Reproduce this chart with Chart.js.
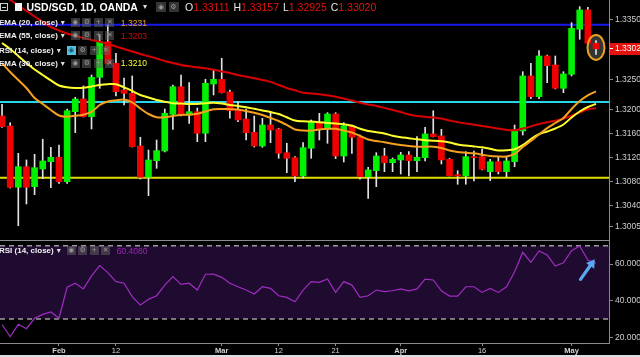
<!DOCTYPE html>
<html><head><meta charset="utf-8">
<script src="https://cdn.jsdelivr.net/npm/chart.js@4.4.1/dist/chart.umd.min.js"></script>
<style>
html,body{margin:0;padding:0;background:#000;overflow:hidden;}
#wrap{position:relative;width:640px;height:357px;overflow:hidden;}
canvas{position:absolute;left:0;top:0;}
.t{position:absolute;font-family:"Liberation Sans",Arial,sans-serif;white-space:nowrap;line-height:14px;}
.row{position:absolute;left:-1px;display:flex;align-items:center;height:12px;font:bold 8px "Liberation Sans",Arial,sans-serif;color:#f2f2f2;white-space:nowrap;}
.caret{font:8px "DejaVu Sans",sans-serif;color:#ddd;margin-left:3px;}
.bxs{display:flex;margin-left:6px;}
.bx{display:inline-block;width:9px;height:9px;background:rgba(95,95,95,0.55);margin-right:2.5px;font:7px "DejaVu Sans",sans-serif;color:#9a9a9a;text-align:center;line-height:9px;}
.bx.on{background:#52c1e3;color:#1d5d70;}
.val{margin-left:4px;font:8.5px "Liberation Sans",Arial,sans-serif;}
</style></head><body>
<div id="wrap">
<canvas id="c" width="640" height="357"></canvas>
<div style="position:absolute;left:0;top:3px;width:6px;height:6px;border:1px solid #cfcfcf;"><div style="position:absolute;left:1px;top:2.5px;width:4px;height:1px;background:#cfcfcf"></div></div>
<div style="position:absolute;left:15px;top:3px;width:7px;height:8px;background:#f4f4f4;"></div>
<div class="t" style="left:26.5px;top:0;font-weight:bold;font-size:10.5px;color:#fff;">USD/SGD, 1D, OANDA</div>
<div class="t" style="left:143px;top:0;font:8px 'DejaVu Sans',sans-serif;line-height:14px;color:#ddd;">▾</div>
<div style="position:absolute;left:156px;top:2px;display:flex;"><span class="bx" style="width:10px;height:10px;line-height:10px">◉</span><span class="bx" style="width:10px;height:10px;line-height:10px">⚙</span></div>
<div class="t" style="left:185px;top:0;font-size:10.5px;color:#e6e6e6;word-spacing:1px;">O<span style="color:#e3140f">1.33111</span> H<span style="color:#e3140f">1.33157</span> L<span style="color:#e3140f">1.32925</span> C<span style="color:#e3140f">1.33020</span></div>

<div class="row" style="top:16.7px;"><span>EMA (20, close)</span><span class="caret">▾</span><span class="bxs"><span class="bx">◉</span><span class="bx">⚙</span><span class="bx">+</span><span class="bx">✕</span></span><span class="val" style="color:#f2a11f">1.3231</span></div>
<div class="row" style="top:29.7px;"><span>EMA (55, close)</span><span class="caret">▾</span><span class="bxs"><span class="bx">◉</span><span class="bx">⚙</span><span class="bx">+</span><span class="bx">✕</span></span><span class="val" style="color:#c41212">1.3203</span></div>
<div class="row" style="top:44px;"><span>RSI (14, close)</span><span class="caret">▾</span><span class="bxs"><span class="bx on">◉</span><span class="bx">⚙</span><span class="bx">+</span><span class="bx">✕</span></span></div>
<div class="row" style="top:57.3px;"><span>EMA (30, close)</span><span class="caret">▾</span><span class="bxs"><span class="bx">◉</span><span class="bx">⚙</span><span class="bx">+</span><span class="bx">✕</span></span><span class="val" style="color:#ffff33">1.3210</span></div>
<div class="row" style="top:244.7px;"><span>RSI (14, close)</span><span class="caret">▾</span><span class="bxs"><span class="bx">◉</span><span class="bx">⚙</span><span class="bx">+</span><span class="bx">✕</span></span><span class="val" style="color:#9c27b0">60.4080</span></div>
</div>
<script>
// ---- data ----
const dates = ["2018-01-23","2018-01-24","2018-01-25","2018-01-26","2018-01-29","2018-01-30","2018-01-31","2018-02-01","2018-02-02","2018-02-05","2018-02-06","2018-02-07","2018-02-08","2018-02-09","2018-02-12","2018-02-13","2018-02-14","2018-02-15","2018-02-16","2018-02-19","2018-02-20","2018-02-21","2018-02-22","2018-02-23","2018-02-26","2018-02-27","2018-02-28","2018-03-01","2018-03-02","2018-03-05","2018-03-06","2018-03-07","2018-03-08","2018-03-09","2018-03-12","2018-03-13","2018-03-14","2018-03-15","2018-03-16","2018-03-19","2018-03-20","2018-03-21","2018-03-22","2018-03-23","2018-03-26","2018-03-27","2018-03-28","2018-03-29","2018-03-30","2018-04-02","2018-04-03","2018-04-04","2018-04-05","2018-04-06","2018-04-09","2018-04-10","2018-04-11","2018-04-12","2018-04-13","2018-04-16","2018-04-17","2018-04-18","2018-04-19","2018-04-20","2018-04-23","2018-04-24","2018-04-25","2018-04-26","2018-04-27","2018-04-30","2018-05-01","2018-05-02","2018-05-03","2018-05-04"];
const opens = [1.31900,1.31733,1.30712,1.31055,1.30722,1.31017,1.31138,1.31212,1.30805,1.31972,1.32183,1.31888,1.32545,1.33138,1.32778,1.32333,1.32278,1.31400,1.30878,1.31155,1.31317,1.31928,1.32388,1.31917,1.31972,1.31612,1.32433,1.32512,1.32300,1.32000,1.31850,1.31628,1.31400,1.31750,1.31683,1.31288,1.31205,1.30900,1.31362,1.31795,1.31678,1.31933,1.31233,1.31733,1.31555,1.30888,1.30988,1.31233,1.31122,1.31167,1.31250,1.31155,1.31205,1.31600,1.31567,1.31178,1.30922,1.30900,1.31222,1.31222,1.30972,1.31138,1.30972,1.31138,1.31650,1.32567,1.32222,1.32900,1.32750,1.32362,1.32595,1.33345,1.33667,1.33111];
const highs = [1.32095,1.31788,1.31278,1.31167,1.31262,1.31512,1.31378,1.31417,1.32017,1.32212,1.32400,1.32583,1.33250,1.33417,1.32945,1.32533,1.32567,1.31545,1.31333,1.31500,1.32017,1.32417,1.32583,1.32455,1.32033,1.32512,1.32667,1.32862,1.32333,1.32138,1.32017,1.31900,1.31862,1.31972,1.31695,1.31445,1.31222,1.31455,1.31833,1.31945,1.31955,1.31955,1.31788,1.31750,1.31583,1.31045,1.31288,1.31362,1.31200,1.31295,1.31305,1.31555,1.31712,1.31988,1.31678,1.31192,1.30988,1.31305,1.31317,1.31350,1.31178,1.31222,1.31212,1.31750,1.32638,1.32778,1.32988,1.32917,1.32900,1.32638,1.33455,1.33722,1.33712,1.33157];
const lows = [1.31708,1.30700,1.30072,1.30433,1.30588,1.30855,1.30705,1.30778,1.30778,1.31622,1.31883,1.31683,1.32362,1.32767,1.32233,1.32083,1.31383,1.30850,1.30572,1.31028,1.31300,1.31678,1.31900,1.31778,1.31472,1.31472,1.32250,1.32283,1.31862,1.31805,1.31500,1.31383,1.31378,1.31455,1.31195,1.30955,1.30805,1.30862,1.31195,1.31500,1.31445,1.31188,1.31133,1.31278,1.30845,1.30528,1.30722,1.30972,1.30972,1.30933,1.30900,1.30972,1.31150,1.31550,1.31100,1.30900,1.30762,1.30762,1.30817,1.31000,1.30822,1.30933,1.30888,1.31055,1.31583,1.32188,1.32188,1.32455,1.32350,1.32288,1.32567,1.33178,1.33090,1.32925];
const closes = [1.31722,1.30712,1.31055,1.30712,1.31038,1.31150,1.31212,1.30805,1.31988,1.32183,1.31888,1.32545,1.33138,1.32778,1.32305,1.32278,1.31388,1.30878,1.31167,1.31322,1.31945,1.32388,1.31917,1.31972,1.31612,1.32445,1.32512,1.32288,1.31988,1.31833,1.31622,1.31400,1.31750,1.31667,1.31278,1.31195,1.30900,1.31372,1.31795,1.31683,1.31933,1.31233,1.31738,1.31545,1.30888,1.31000,1.31233,1.31122,1.31178,1.31250,1.31155,1.31212,1.31600,1.31555,1.31167,1.30905,1.30900,1.31222,1.31205,1.31012,1.31138,1.30972,1.31150,1.31650,1.32567,1.32222,1.32900,1.32738,1.32362,1.32600,1.33362,1.33667,1.33112,1.33020];
const ema20 = [1.32783,1.32633,1.32500,1.32367,1.32200,1.32100,1.32000,1.31908,1.31888,1.31903,1.31922,1.31967,1.32083,1.32142,1.32160,1.32173,1.32125,1.32025,1.31933,1.31878,1.31878,1.31900,1.31917,1.31920,1.31937,1.31975,1.32012,1.32017,1.32013,1.32008,1.31983,1.31953,1.31917,1.31867,1.31817,1.31750,1.31675,1.31658,1.31657,1.31675,1.31687,1.31687,1.31658,1.31625,1.31567,1.31507,1.31483,1.31462,1.31438,1.31417,1.31400,1.31388,1.31388,1.31388,1.31367,1.31325,1.31300,1.31288,1.31277,1.31255,1.31233,1.31225,1.31225,1.31267,1.31383,1.31483,1.31592,1.31697,1.31783,1.31867,1.32017,1.32150,1.32245,1.32310];
const ema30 = [1.33117,1.33017,1.32900,1.32783,1.32675,1.32583,1.32492,1.32408,1.32378,1.32367,1.32370,1.32392,1.32417,1.32430,1.32430,1.32378,1.32317,1.32250,1.32208,1.32167,1.32138,1.32112,1.32107,1.32100,1.32100,1.32112,1.32122,1.32108,1.32083,1.32067,1.32047,1.32020,1.31992,1.31965,1.31933,1.31878,1.31825,1.31812,1.31807,1.31797,1.31785,1.31773,1.31762,1.31737,1.31687,1.31650,1.31630,1.31608,1.31572,1.31547,1.31530,1.31512,1.31497,1.31488,1.31477,1.31458,1.31425,1.31407,1.31393,1.31378,1.31353,1.31325,1.31327,1.31345,1.31413,1.31517,1.31595,1.31642,1.31692,1.31758,1.31875,1.31975,1.32050,1.32100];
const ema55 = [1.33917,1.33833,1.33742,1.33650,1.33558,1.33467,1.33383,1.33325,1.33275,1.33233,1.33200,1.33167,1.33138,1.33100,1.33058,1.33017,1.32975,1.32933,1.32895,1.32858,1.32817,1.32783,1.32750,1.32728,1.32712,1.32695,1.32670,1.32643,1.32617,1.32583,1.32557,1.32528,1.32500,1.32468,1.32417,1.32367,1.32328,1.32288,1.32275,1.32262,1.32247,1.32220,1.32192,1.32157,1.32122,1.32093,1.32067,1.32035,1.32000,1.31967,1.31925,1.31900,1.31887,1.31873,1.31857,1.31825,1.31795,1.31775,1.31755,1.31733,1.31713,1.31690,1.31667,1.31663,1.31692,1.31727,1.31767,1.31797,1.31822,1.31853,1.31907,1.31958,1.32013,1.32030];
const rsi = [27.0,20.3,27.1,24.7,30.4,32.5,33.8,30.4,47.3,49.5,46.4,53.5,59.1,55.3,50.4,49.5,42.2,37.6,40.7,42.7,48.5,53.1,48.9,49.5,45.8,54.4,54.5,52.7,49.5,47.6,45.8,43.6,47.6,46.7,42.7,41.8,39.4,45.8,50.4,50.0,51.8,44.5,50.4,48.5,41.8,42.7,45.8,44.9,45.4,46.4,45.4,46.4,51.8,51.3,45.4,42.5,42.5,47.6,47.6,44.5,46.7,44.5,47.6,55.8,66.4,60.9,67.1,64.9,58.9,60.7,67.3,69.8,62.2,60.41];
const priceTicks = [1.3005,1.304,1.308,1.312,1.316,1.32,1.325,1.335];
const rsiTicks = [20,40,60];
const rsiBand = [30,70];
const levels = [1.33422,1.32133,1.30872];
const xTickDates = ["2018-02-01","2018-02-12","2018-03-01","2018-03-12","2018-03-21","2018-04-02","2018-04-16","2018-05-01"];
const xTickLabels = ["Feb","12","Mar","12","21","Apr","16","May"];
const circleMark = {date:"2018-05-04", price:1.33042};
const arrowMark = {from:{x:71.1, rsi:51.6}, to:{x:72.85, rsi:62.6}};

// ---- styles ----
const FONT = '"Liberation Sans", Arial, sans-serif';
const GREEN = '#00f000', RED = '#ee0000', WICK = '#e2e2e2';
const levelColors = ['#1818f0','#28d4e8','#e0e000'];
const idx = dates.map((d,i)=>i);
const lastClose = closes[closes.length-1];
const xTickIdx = xTickDates.map(d=>dates.indexOf(d));

Chart.defaults.font.family = FONT;

const overlay = {
  id:'overlay',
  beforeDraw(ch){
    const c=ch.ctx, ys=ch.scales.y, xs=ch.scales.x;
    c.save();
    c.fillStyle='#000'; c.fillRect(0,0,ch.width,ch.height);
    const py=ys.getPixelForValue(lastClose);
    c.fillStyle='#e3140f'; c.fillRect(xs.right+1, Math.round(py)-6, ch.width-xs.right, 12);
    c.restore();
  },
  beforeDatasetsDraw(ch){
    const c=ch.ctx, ys=ch.scales.y, yr=ch.scales.yR, xs=ch.scales.x;
    const L=xs.left, R=xs.right;
    c.save();
    const y70=yr.getPixelForValue(rsiBand[1]), y30=yr.getPixelForValue(rsiBand[0]);
    c.fillStyle='#1f0b2f'; c.fillRect(L,y70,R-L,y30-y70);
    c.setLineDash([5,4]); c.strokeStyle='#9a9a9a'; c.lineWidth=1.5;
    [y70,y30].forEach(y=>{c.beginPath();c.moveTo(L,y);c.lineTo(R,y);c.stroke();});
    c.setLineDash([]);
    c.beginPath(); c.rect(L, ys.top, R-L, ys.bottom-ys.top); c.clip();
    levels.forEach((v,k)=>{ const y=ys.getPixelForValue(v); c.strokeStyle=levelColors[k]; c.lineWidth=2; c.beginPath(); c.moveTo(L,y); c.lineTo(R,y); c.stroke(); });
    const cx=xs.getPixelForValue(dates.indexOf(circleMark.date)), cy=ys.getPixelForValue(circleMark.price);
    c.fillStyle='rgba(70,70,70,0.75)'; c.beginPath(); c.ellipse(cx,cy,8.5,12.5,0,0,Math.PI*2); c.fill();
    c.restore();
  },
  afterDatasetsDraw(ch){
    const c=ch.ctx, ys=ch.scales.y, yr=ch.scales.yR, xs=ch.scales.x;
    c.save();
    c.strokeStyle='#8a8a8a'; c.lineWidth=1;
    c.beginPath(); c.moveTo(0, Math.round(ys.bottom)+0.5); c.lineTo(xs.right, Math.round(ys.bottom)+0.5); c.stroke();
    const cx=xs.getPixelForValue(dates.indexOf(circleMark.date)), cy=ys.getPixelForValue(circleMark.price);
    c.strokeStyle='#e9a122'; c.lineWidth=2; c.beginPath(); c.ellipse(cx,cy,8.5,12.5,0,0,Math.PI*2); c.stroke();
    const x1=xs.getPixelForValue(arrowMark.from.x), y1=yr.getPixelForValue(arrowMark.from.rsi);
    const x2=xs.getPixelForValue(arrowMark.to.x), y2=yr.getPixelForValue(arrowMark.to.rsi);
    const a=Math.atan2(y2-y1,x2-x1), hl=8, hw=5;
    const bx=x2-hl*Math.cos(a), by=y2-hl*Math.sin(a);
    c.strokeStyle='#5aa8f2'; c.fillStyle='#5aa8f2'; c.lineWidth=3.2; c.lineCap='round';
    c.beginPath(); c.moveTo(x1,y1); c.lineTo(bx,by); c.stroke();
    c.beginPath(); c.moveTo(x2,y2);
    c.lineTo(bx+hw*Math.sin(a), by-hw*Math.cos(a));
    c.lineTo(bx-hw*Math.sin(a), by+hw*Math.cos(a));
    c.closePath(); c.fill();
    c.restore();
  },
  afterDraw(ch){
    const c=ch.ctx; c.save(); c.fillStyle='#d8dde3'; c.fillRect(0,355,ch.width,2); c.restore();
  }
};

new Chart(document.getElementById('c'), {
  type:'bar',
  data:{ datasets:[
    {type:'line', label:'EMA (20)', data: idx.map(i=>({x:i,y:ema20[i]})), yAxisID:'y', borderColor:'#f5a01e', borderWidth:2, pointRadius:0, tension:0.3, order:0},
    {type:'line', label:'EMA (30)', data: idx.map(i=>({x:i,y:ema30[i]})), yAxisID:'y', borderColor:'#ffff2e', borderWidth:2, pointRadius:0, tension:0.3, order:0},
    {type:'line', label:'EMA (55)', data: idx.map(i=>({x:i,y:ema55[i]})), yAxisID:'y', borderColor:'#d80000', borderWidth:2, pointRadius:0, tension:0.3, order:0},
    {type:'bar', label:'body', data: idx.map(i=>({x:i,y:[opens[i],closes[i]]})), yAxisID:'y', backgroundColor: ctx=> (closes[ctx.dataIndex]>=opens[ctx.dataIndex]?GREEN:RED), barThickness:6, grouped:false, borderWidth:0, order:5},
    {type:'bar', label:'wick', data: idx.map(i=>({x:i,y:[lows[i],highs[i]]})), yAxisID:'y', backgroundColor: WICK, barThickness:1, grouped:false, borderWidth:0, order:6},
    {type:'line', label:'RSI (14)', data: idx.map(i=>({x:i,y:rsi[i]})), yAxisID:'yR', borderColor:'#a02cc2', borderWidth:1.2, pointRadius:0, tension:0, order:0}
  ]},
  options:{
    responsive:false, animation:false, devicePixelRatio:1,
    layout:{padding:0},
    plugins:{legend:{display:false}, tooltip:{enabled:false}},
    scales:{
      x:{type:'linear', min:-0.25, max:74.6, bounds:'data', offset:false, position:'bottom',
        afterBuildTicks: s=>{ s.ticks = xTickIdx.map(v=>({value:v})); },
        ticks:{autoSkip:false, maxRotation:0, color:'#d4d4d4', padding:0,
          font: c=>({family:FONT, size:7.5, weight: /^[A-Za-z]/.test(xTickLabels[c.index]||'')?'bold':'normal'}),
          callback:(v,i)=>xTickLabels[i]},
        grid:{display:true, drawOnChartArea:false, drawTicks:true, tickLength:3, color:'#8a8a8a', offset:false},
        border:{display:true, color:'#8a8a8a'},
        afterFit: s=>{ s.height=14; s.paddingLeft=0; s.paddingRight=0; }
      },
      y:{type:'linear', position:'right', stack:'p', stackWeight:240, min:1.29833, max:1.33833, bounds:'data',
        afterBuildTicks: s=>{ s.ticks = priceTicks.concat([lastClose]).sort((a,b)=>a-b).map(v=>({value:v})); },
        ticks:{autoSkip:false, padding:2, font:{family:FONT,size:8.5},
          color: c=> (c.tick && c.tick.value===lastClose)?'#ffffff':'#cfcfcf',
          callback: v=>Number(v).toFixed(5)},
        grid:{drawOnChartArea:false, drawTicks:true, tickLength:4, color:'#8a8a8a',
          tickColor: c=> (c.tick && c.tick.value===lastClose)?'#ffffff':'#8a8a8a'},
        border:{display:true, color:'#8a8a8a'},
        afterFit: s=>{ s.width=31; s.paddingTop=0; s.paddingBottom=0; }
      },
      yR:{type:'linear', position:'right', stack:'p', stackWeight:103, min:16.9, max:73.1, bounds:'data',
        afterBuildTicks: s=>{ s.ticks = rsiTicks.map(v=>({value:v})); },
        ticks:{autoSkip:false, padding:2, font:{family:FONT,size:8.5}, color:'#cfcfcf', callback: v=>Number(v).toFixed(4)},
        grid:{drawOnChartArea:false, drawTicks:true, tickLength:4, color:'#8a8a8a'},
        border:{display:true, color:'#8a8a8a'},
        afterFit: s=>{ s.width=31; s.paddingTop=0; s.paddingBottom=0; }
      }
    }
  },
  plugins:[overlay]
});
</script>
</body></html>
